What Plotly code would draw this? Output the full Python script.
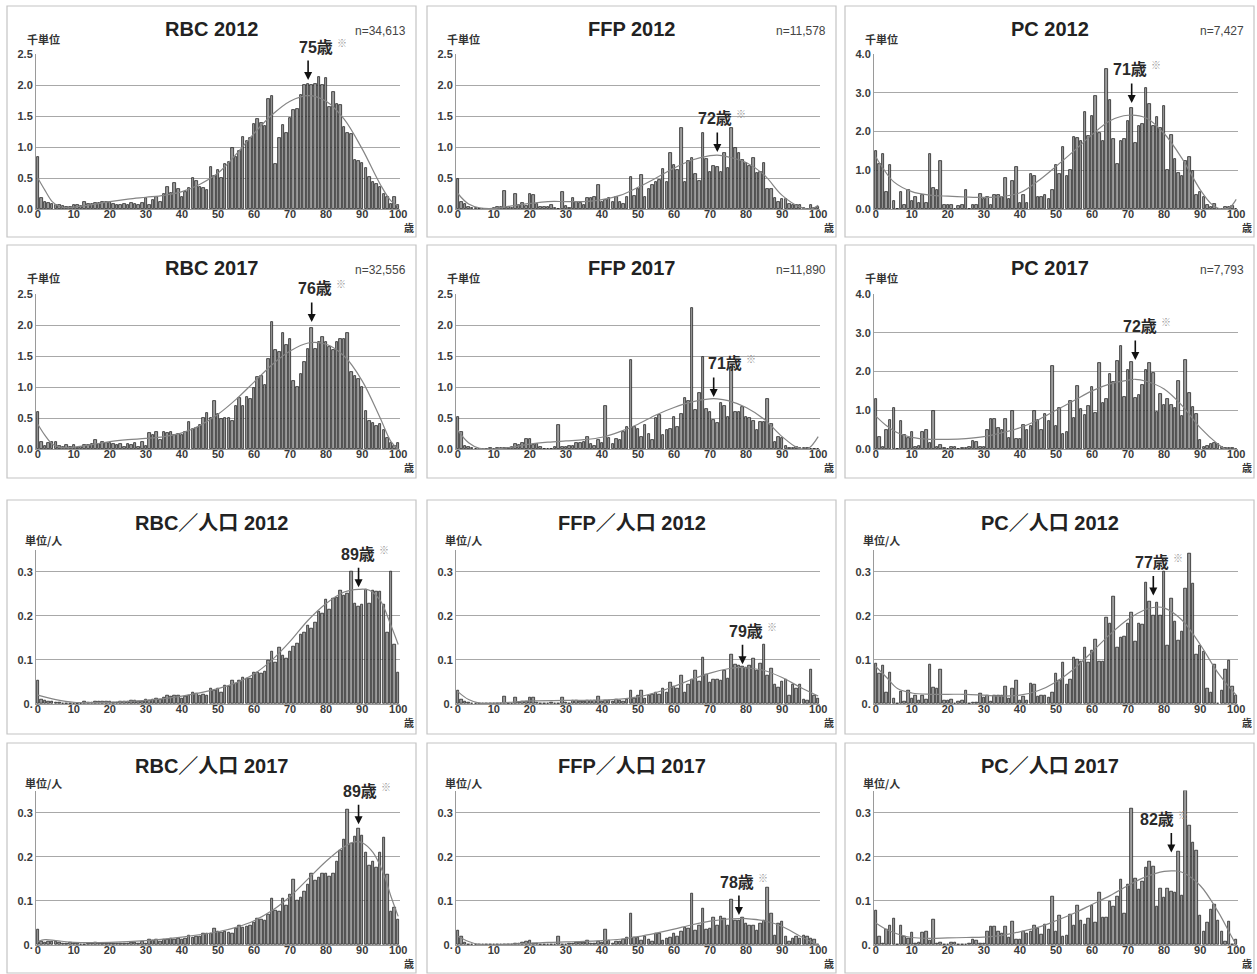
import plotly.graph_objects as go

# ---------------------------------------------------------------- data
ages = list(range(101))

# units used per age (thousand units)
rbc_2012 = [
    0.84, 0.18, 0.12, 0.09, 0.08, 0.07, 0.06, 0.05, 0.04, 0.03,
    0.06, 0.06, 0.05, 0.12, 0.08, 0.08, 0.09, 0.10, 0.11, 0.12,
    0.11, 0.08, 0.06, 0.07, 0.08, 0.07, 0.10, 0.08, 0.07, 0.09,
    0.17, 0.07, 0.15, 0.20, 0.12, 0.24, 0.36, 0.26, 0.42, 0.32,
    0.20, 0.28, 0.34, 0.50, 0.45, 0.36, 0.34, 0.30, 0.67, 0.53,
    0.63, 0.50, 0.73, 0.76, 0.99, 0.84, 0.94, 1.17, 1.09, 1.14,
    1.37, 1.46, 1.38, 1.34, 1.78, 1.82, 0.72, 1.14, 1.35, 1.23,
    1.47, 1.60, 1.62, 1.84, 2.00, 2.01, 2.00, 2.01, 2.13, 2.00,
    2.11, 1.64, 1.89, 1.69, 1.68, 1.32, 1.22, 1.21, 0.79, 0.77,
    0.74, 0.66, 0.51, 0.44, 0.41, 0.36, 0.25, 0.20, 0.08, 0.19,
    0.06]
ffp_2012 = [
    0.48, 0.12, 0.08, 0.04, 0.02, 0.01, 0.00, 0.00, 0.00, 0.00,
    0.02, 0.03, 0.03, 0.29, 0.03, 0.02, 0.25, 0.06, 0.09, 0.05,
    0.24, 0.23, 0.08, 0.04, 0.03, 0.04, 0.07, 0.02, 0.00, 0.27,
    0.05, 0.01, 0.17, 0.12, 0.09, 0.07, 0.17, 0.17, 0.19, 0.38,
    0.12, 0.15, 0.17, 0.11, 0.19, 0.12, 0.08, 0.20, 0.52, 0.21,
    0.32, 0.55, 0.20, 0.32, 0.38, 0.44, 0.47, 0.64, 0.44, 0.91,
    0.71, 0.63, 1.30, 0.44, 0.78, 0.83, 0.57, 0.45, 1.22, 0.80,
    0.60, 0.70, 0.67, 0.60, 0.90, 0.66, 1.30, 0.98, 0.90, 0.79,
    0.74, 0.70, 0.82, 0.58, 0.59, 0.74, 0.32, 0.32, 0.17, 0.12,
    0.16, 0.16, 0.08, 0.06, 0.06, 0.06, 0.01, 0.00, 0.06, 0.01,
    0.03]
pc_2012 = [
    1.51, 1.15, 1.43, 0.45, 1.13, 0.20, 0.00, 0.45, 0.10, 0.50,
    0.20, 0.30, 0.15, 0.35, 0.15, 1.43, 0.55, 0.50, 1.25, 0.10,
    0.10, 0.10, 0.00, 0.08, 0.10, 0.50, 0.00, 0.10, 0.10, 0.40,
    0.25, 0.30, 0.10, 0.35, 0.35, 0.30, 0.80, 0.25, 0.72, 1.08,
    0.15, 0.35, 0.15, 0.90, 0.85, 0.30, 0.30, 0.35, 0.25, 0.48,
    1.13, 0.90, 1.60, 0.85, 1.00, 1.85, 1.83, 1.75, 2.50, 1.88,
    2.40, 2.92, 1.95, 1.75, 3.62, 2.82, 1.82, 1.15, 1.75, 1.82,
    2.28, 2.60, 1.70, 2.15, 2.20, 3.12, 2.70, 2.15, 2.37, 2.10,
    2.65, 1.00, 1.90, 1.30, 0.92, 0.85, 1.25, 1.33, 0.97, 0.35,
    0.45, 0.30, 0.10, 0.05, 0.12, 0.00, 0.00, 0.04, 0.05, 0.08,
    0.00]
rbc_2017 = [
    0.60, 0.12, 0.05, 0.10, 0.12, 0.12, 0.05, 0.03, 0.06, 0.04,
    0.06, 0.02, 0.04, 0.06, 0.07, 0.08, 0.14, 0.08, 0.12, 0.10,
    0.10, 0.08, 0.07, 0.08, 0.04, 0.08, 0.07, 0.09, 0.04, 0.12,
    0.05, 0.26, 0.23, 0.27, 0.14, 0.28, 0.26, 0.27, 0.23, 0.24,
    0.22, 0.27, 0.44, 0.32, 0.34, 0.38, 0.50, 0.58, 0.50, 0.78,
    0.56, 0.48, 0.50, 0.50, 0.45, 0.70, 0.82, 0.70, 0.84, 0.80,
    0.98, 1.17, 1.18, 1.04, 1.46, 2.05, 1.60, 1.56, 1.88, 1.68,
    1.77, 1.10, 1.00, 1.21, 1.40, 1.62, 1.95, 1.62, 1.72, 1.80,
    1.73, 1.65, 1.60, 1.72, 1.78, 1.77, 1.87, 1.25, 1.18, 1.13,
    1.00, 0.62, 0.45, 0.42, 0.37, 0.40, 0.30, 0.18, 0.10, 0.05,
    0.10]
ffp_2017 = [
    0.52, 0.28, 0.05, 0.04, 0.02, 0.00, 0.00, 0.00, 0.00, 0.02,
    0.00, 0.01, 0.01, 0.01, 0.02, 0.04, 0.08, 0.06, 0.10, 0.16,
    0.16, 0.06, 0.08, 0.04, 0.00, 0.00, 0.00, 0.03, 0.38, 0.03,
    0.03, 0.05, 0.05, 0.10, 0.10, 0.12, 0.20, 0.08, 0.05, 0.15,
    0.10, 0.70, 0.17, 0.08, 0.16, 0.15, 0.27, 0.35, 1.43, 0.35,
    0.32, 0.20, 0.38, 0.25, 0.15, 0.50, 0.55, 0.22, 0.30, 0.33,
    0.52, 0.36, 0.57, 0.83, 0.78, 2.28, 0.63, 0.90, 1.48, 0.65,
    0.60, 0.47, 0.42, 0.75, 0.70, 0.52, 1.30, 0.60, 0.60, 0.68,
    0.52, 0.50, 0.45, 0.30, 0.43, 0.43, 0.80, 0.40, 0.12, 0.20,
    0.18, 0.05, 0.02, 0.02, 0.03, 0.02, 0.02, 0.02, 0.00, 0.00,
    0.00]
pc_2017 = [
    1.30, 0.30, 0.05, 0.50, 0.75, 1.05, 0.00, 0.73, 0.35, 0.28,
    0.45, 0.05, 0.08, 0.45, 0.50, 0.15, 0.98, 0.05, 0.10, 0.03,
    0.00, 0.05, 0.05, 0.00, 0.03, 0.03, 0.05, 0.20, 0.18, 0.05,
    0.05, 0.48, 0.78, 0.78, 0.55, 0.48, 0.78, 0.28, 0.97, 0.25,
    0.25, 0.62, 0.50, 0.60, 0.98, 0.75, 0.48, 0.90, 0.72, 2.15,
    0.60, 1.05, 0.38, 0.45, 1.23, 0.80, 1.63, 1.02, 0.88, 1.10,
    1.60, 0.93, 2.23, 1.20, 1.28, 1.93, 1.73, 2.27, 2.65, 1.35,
    2.05, 2.25, 1.32, 1.40, 1.65, 2.05, 2.23, 1.97, 0.95, 1.42,
    1.13, 1.30, 1.13, 1.07, 1.75, 0.85, 2.30, 1.45, 1.08, 0.90,
    0.22, 0.06, 0.08, 0.12, 0.15, 0.12, 0.06, 0.02, 0.02, 0.02,
    0.00]

# units used per person, by age
rbc_pop_2012 = [
    0.052, 0.010, 0.008, 0.006, 0.005, 0.004, 0.003, 0.002, 0.002, 0.002,
    0.002, 0.002, 0.002, 0.005, 0.004, 0.004, 0.005, 0.005, 0.006, 0.005,
    0.005, 0.004, 0.004, 0.005, 0.005, 0.006, 0.007, 0.007, 0.006, 0.006,
    0.010, 0.007, 0.010, 0.012, 0.009, 0.015, 0.020, 0.016, 0.020, 0.018,
    0.012, 0.016, 0.020, 0.027, 0.023, 0.020, 0.021, 0.018, 0.036, 0.030,
    0.036, 0.027, 0.042, 0.040, 0.054, 0.047, 0.052, 0.060, 0.058, 0.058,
    0.071, 0.072, 0.070, 0.074, 0.098, 0.118, 0.094, 0.127, 0.110, 0.104,
    0.118, 0.130, 0.137, 0.158, 0.163, 0.178, 0.170, 0.185, 0.210, 0.205,
    0.237, 0.215, 0.240, 0.242, 0.258, 0.245, 0.250, 0.300, 0.228, 0.220,
    0.225, 0.260, 0.228, 0.257, 0.255, 0.254, 0.225, 0.163, 0.300, 0.135,
    0.072]
ffp_pop_2012 = [
    0.030, 0.010, 0.006, 0.003, 0.001, 0.000, 0.000, 0.000, 0.000, 0.000,
    0.001, 0.001, 0.001, 0.017, 0.002, 0.002, 0.015, 0.004, 0.006, 0.005,
    0.015, 0.015, 0.004, 0.002, 0.002, 0.002, 0.003, 0.001, 0.000, 0.015,
    0.003, 0.001, 0.008, 0.007, 0.005, 0.005, 0.008, 0.008, 0.008, 0.017,
    0.005, 0.007, 0.008, 0.005, 0.009, 0.008, 0.006, 0.010, 0.030, 0.013,
    0.018, 0.030, 0.012, 0.020, 0.022, 0.025, 0.022, 0.035, 0.025, 0.048,
    0.040, 0.035, 0.065, 0.025, 0.045, 0.055, 0.075, 0.050, 0.105, 0.067,
    0.048, 0.055, 0.055, 0.052, 0.076, 0.058, 0.112, 0.090, 0.088, 0.085,
    0.082, 0.087, 0.103, 0.075, 0.092, 0.135, 0.065, 0.080, 0.045, 0.038,
    0.050, 0.055, 0.020, 0.045, 0.035, 0.045, 0.010, 0.007, 0.078, 0.020,
    0.012]
pc_pop_2012 = [
    0.092, 0.070, 0.088, 0.027, 0.072, 0.013, 0.000, 0.028, 0.005, 0.030,
    0.013, 0.018, 0.008, 0.018, 0.010, 0.090, 0.037, 0.035, 0.078, 0.007,
    0.008, 0.010, 0.002, 0.005, 0.007, 0.030, 0.000, 0.004, 0.004, 0.023,
    0.015, 0.018, 0.005, 0.018, 0.018, 0.018, 0.040, 0.012, 0.035, 0.052,
    0.007, 0.017, 0.008, 0.047, 0.045, 0.017, 0.018, 0.018, 0.015, 0.027,
    0.068, 0.052, 0.093, 0.045, 0.055, 0.106, 0.100, 0.097, 0.127, 0.094,
    0.122, 0.146, 0.097, 0.097, 0.195, 0.182, 0.243, 0.128, 0.150, 0.152,
    0.183, 0.208, 0.142, 0.182, 0.180, 0.275, 0.233, 0.200, 0.229, 0.200,
    0.300, 0.133, 0.238, 0.187, 0.143, 0.165, 0.262, 0.340, 0.272, 0.112,
    0.132, 0.118, 0.036, 0.025, 0.090, 0.000, 0.030, 0.077, 0.098, 0.040,
    0.018]
rbc_pop_2017 = [
    0.035, 0.008, 0.005, 0.007, 0.007, 0.007, 0.006, 0.004, 0.003, 0.005,
    0.004, 0.003, 0.002, 0.002, 0.003, 0.003, 0.005, 0.003, 0.004, 0.004,
    0.004, 0.004, 0.003, 0.004, 0.004, 0.004, 0.005, 0.006, 0.004, 0.007,
    0.004, 0.012, 0.010, 0.012, 0.007, 0.013, 0.013, 0.014, 0.013, 0.014,
    0.013, 0.015, 0.022, 0.017, 0.018, 0.020, 0.025, 0.027, 0.025, 0.037,
    0.030, 0.028, 0.030, 0.028, 0.025, 0.037, 0.043, 0.040, 0.042, 0.043,
    0.050, 0.060, 0.058, 0.055, 0.070, 0.105, 0.077, 0.075, 0.105, 0.090,
    0.115, 0.148, 0.100, 0.108, 0.122, 0.138, 0.163, 0.145, 0.152, 0.163,
    0.163, 0.155, 0.162, 0.190, 0.215, 0.240, 0.307, 0.230, 0.245, 0.263,
    0.248, 0.210, 0.180, 0.190, 0.175, 0.210, 0.243, 0.160, 0.075, 0.085,
    0.058]
ffp_pop_2017 = [
    0.032, 0.018, 0.005, 0.002, 0.000, 0.000, 0.000, 0.000, 0.000, 0.000,
    0.000, 0.000, 0.000, 0.000, 0.001, 0.002, 0.003, 0.003, 0.005, 0.008,
    0.009, 0.004, 0.004, 0.002, 0.000, 0.000, 0.000, 0.002, 0.020, 0.002,
    0.002, 0.003, 0.003, 0.005, 0.005, 0.006, 0.010, 0.004, 0.003, 0.007,
    0.005, 0.035, 0.009, 0.004, 0.008, 0.008, 0.013, 0.017, 0.072, 0.017,
    0.016, 0.010, 0.019, 0.012, 0.007, 0.025, 0.027, 0.011, 0.015, 0.017,
    0.027, 0.018, 0.030, 0.040, 0.038, 0.117, 0.032, 0.045, 0.082, 0.035,
    0.038, 0.063, 0.045, 0.064, 0.060, 0.044, 0.104, 0.055, 0.055, 0.062,
    0.048, 0.045, 0.044, 0.033, 0.049, 0.055, 0.130, 0.071, 0.022, 0.048,
    0.052, 0.020, 0.008, 0.015, 0.020, 0.014, 0.022, 0.018, 0.014, 0.012,
    0.000]
pc_pop_2017 = [
    0.078, 0.018, 0.003, 0.035, 0.045, 0.060, 0.000, 0.043, 0.020, 0.015,
    0.028, 0.003, 0.005, 0.028, 0.030, 0.010, 0.057, 0.003, 0.006, 0.002,
    0.000, 0.005, 0.005, 0.000, 0.002, 0.002, 0.003, 0.013, 0.010, 0.003,
    0.003, 0.030, 0.042, 0.042, 0.030, 0.027, 0.042, 0.016, 0.052, 0.013,
    0.013, 0.030, 0.027, 0.030, 0.043, 0.037, 0.023, 0.046, 0.035, 0.110,
    0.030, 0.067, 0.018, 0.022, 0.070, 0.045, 0.090, 0.055, 0.047, 0.060,
    0.090, 0.050, 0.118, 0.062, 0.062, 0.098, 0.088, 0.110, 0.148, 0.072,
    0.136, 0.310, 0.150, 0.125, 0.143, 0.175, 0.190, 0.178, 0.087, 0.128,
    0.108, 0.127, 0.120, 0.118, 0.212, 0.112, 0.350, 0.270, 0.233, 0.215,
    0.067, 0.030, 0.050, 0.080, 0.092, 0.055, 0.030, 0.008, 0.052, 0.000,
    0.012]

# smoothed trend lines (age, value)
rbc_2012_fit_age = [0, 2, 4, 6, 8, 10, 15, 20, 25, 30, 35, 40, 45, 50, 55, 60, 65, 70, 75, 80, 85, 90, 95, 98, 100]
rbc_2012_fit = [0.50, 0.30, 0.12, 0.04, 0.02, 0.03, 0.07, 0.12, 0.16, 0.19, 0.22, 0.28, 0.40, 0.58, 0.88, 1.22, 1.52, 1.74, 1.83, 1.74, 1.45, 0.97, 0.40, 0.13, 0.05]
ffp_2012_fit_age = [0, 3, 6, 10, 15, 20, 25, 30, 35, 40, 45, 50, 55, 60, 65, 70, 72, 75, 80, 85, 90, 95, 98, 100]
ffp_2012_fit = [0.25, 0.08, 0.02, 0.01, 0.05, 0.09, 0.12, 0.12, 0.12, 0.15, 0.22, 0.35, 0.50, 0.66, 0.79, 0.86, 0.87, 0.84, 0.75, 0.55, 0.22, 0.03, 0.00, 0.06]
pc_2012_fit_age = [0, 2, 5, 10, 15, 20, 25, 30, 35, 40, 45, 50, 55, 60, 65, 70, 75, 80, 85, 90, 93, 95, 98, 100]
pc_2012_fit = [1.35, 1.05, 0.70, 0.45, 0.36, 0.33, 0.31, 0.30, 0.32, 0.42, 0.72, 1.10, 1.50, 1.92, 2.28, 2.42, 2.35, 1.95, 1.30, 0.50, 0.14, 0.02, 0.03, 0.25]
rbc_2017_fit_age = [0, 2, 4, 6, 8, 10, 15, 20, 25, 30, 35, 40, 45, 50, 55, 60, 65, 70, 75, 80, 85, 90, 95, 98, 100]
rbc_2017_fit = [0.40, 0.22, 0.08, 0.03, 0.02, 0.03, 0.07, 0.12, 0.15, 0.17, 0.20, 0.26, 0.38, 0.56, 0.80, 1.08, 1.36, 1.58, 1.71, 1.69, 1.50, 1.10, 0.50, 0.12, 0.00]
ffp_2017_fit_age = [0, 3, 6, 10, 15, 20, 25, 30, 35, 40, 45, 50, 55, 60, 65, 70, 72, 75, 80, 85, 90, 94, 97, 100]
ffp_2017_fit = [0.30, 0.10, 0.01, 0.00, 0.03, 0.08, 0.11, 0.13, 0.15, 0.19, 0.28, 0.40, 0.55, 0.67, 0.76, 0.81, 0.81, 0.78, 0.67, 0.48, 0.20, 0.03, 0.00, 0.20]
pc_2017_fit_age = [0, 3, 6, 10, 15, 20, 25, 30, 35, 40, 45, 50, 55, 60, 65, 70, 72, 75, 80, 85, 90, 95, 97, 100]
pc_2017_fit = [0.85, 0.60, 0.42, 0.30, 0.25, 0.25, 0.27, 0.32, 0.42, 0.55, 0.75, 1.00, 1.25, 1.50, 1.68, 1.78, 1.80, 1.75, 1.55, 1.12, 0.55, 0.12, 0.00, 0.00]

rbc_pop_2012_fit_age = [0, 5, 10, 20, 30, 40, 50, 55, 60, 65, 70, 75, 80, 85, 89, 92, 95, 98, 100]
rbc_pop_2012_fit = [0.020, 0.010, 0.004, 0.004, 0.008, 0.018, 0.035, 0.048, 0.068, 0.100, 0.142, 0.190, 0.228, 0.254, 0.260, 0.258, 0.235, 0.178, 0.135]
ffp_pop_2012_fit_age = [0, 3, 6, 10, 15, 20, 30, 40, 45, 50, 55, 60, 65, 70, 75, 78, 80, 85, 90, 95, 100]
ffp_pop_2012_fit = [0.028, 0.010, 0.002, 0.002, 0.004, 0.007, 0.008, 0.009, 0.011, 0.016, 0.026, 0.040, 0.056, 0.070, 0.080, 0.083, 0.082, 0.076, 0.060, 0.038, 0.018]
pc_pop_2012_fit_age = [0, 3, 6, 10, 15, 20, 25, 30, 35, 40, 45, 50, 55, 60, 65, 70, 75, 78, 80, 85, 90, 95, 100]
pc_pop_2012_fit = [0.085, 0.060, 0.035, 0.025, 0.022, 0.022, 0.022, 0.020, 0.018, 0.020, 0.030, 0.050, 0.080, 0.118, 0.158, 0.192, 0.215, 0.220, 0.218, 0.190, 0.135, 0.070, 0.020]
rbc_pop_2017_fit_age = [0, 2, 5, 10, 20, 30, 40, 50, 55, 60, 65, 70, 75, 80, 85, 88, 90, 93, 96, 98, 100]
rbc_pop_2017_fit = [0.008, 0.012, 0.010, 0.006, 0.006, 0.010, 0.018, 0.030, 0.040, 0.055, 0.078, 0.110, 0.150, 0.190, 0.223, 0.234, 0.232, 0.210, 0.160, 0.110, 0.065]
ffp_pop_2017_fit_age = [0, 3, 6, 10, 15, 20, 25, 30, 35, 40, 45, 50, 55, 60, 65, 70, 75, 78, 80, 85, 90, 95, 100]
ffp_pop_2017_fit = [0.020, 0.008, 0.001, 0.000, 0.002, 0.004, 0.006, 0.007, 0.008, 0.010, 0.013, 0.019, 0.027, 0.036, 0.046, 0.054, 0.059, 0.060, 0.060, 0.055, 0.042, 0.020, 0.000]
pc_pop_2017_fit_age = [0, 3, 6, 10, 15, 20, 25, 30, 35, 40, 45, 50, 55, 60, 65, 70, 75, 80, 83, 85, 90, 95, 98, 100]
pc_pop_2017_fit = [0.050, 0.035, 0.025, 0.017, 0.015, 0.016, 0.017, 0.018, 0.022, 0.030, 0.040, 0.055, 0.072, 0.092, 0.112, 0.135, 0.155, 0.167, 0.168, 0.165, 0.135, 0.075, 0.030, 0.000]

titles = ["RBC 2012", "FFP 2012", "PC 2012",
          "RBC 2017", "FFP 2017", "PC 2017",
          "RBC／人口 2012", "FFP／人口 2012", "PC／人口 2012",
          "RBC／人口 2017", "FFP／人口 2017", "PC／人口 2017"]
n_labels = ["n=34,613", "n=11,578", "n=7,427",
            "n=32,556", "n=11,890", "n=7,793",
            None, None, None, None, None, None]
peak_ages = [75, 72, 71, 76, 71, 72, 89, 79, 77, 89, 78, 82]

bars = [rbc_2012, ffp_2012, pc_2012, rbc_2017, ffp_2017, pc_2017,
        rbc_pop_2012, ffp_pop_2012, pc_pop_2012, rbc_pop_2017, ffp_pop_2017, pc_pop_2017]
fits = [(rbc_2012_fit_age, rbc_2012_fit), (ffp_2012_fit_age, ffp_2012_fit), (pc_2012_fit_age, pc_2012_fit),
        (rbc_2017_fit_age, rbc_2017_fit), (ffp_2017_fit_age, ffp_2017_fit), (pc_2017_fit_age, pc_2017_fit),
        (rbc_pop_2012_fit_age, rbc_pop_2012_fit), (ffp_pop_2012_fit_age, ffp_pop_2012_fit),
        (pc_pop_2012_fit_age, pc_pop_2012_fit), (rbc_pop_2017_fit_age, rbc_pop_2017_fit),
        (ffp_pop_2017_fit_age, ffp_pop_2017_fit), (pc_pop_2017_fit_age, pc_pop_2017_fit)]

for b in bars:
    assert len(b) == len(ages)

# ---------------------------------------------------------------- layout geometry (pixels)
W, H = 1257, 974
PLOT_X = [(36, 400), (456, 820), (874, 1238)]
PLOT_Y = [(209, 54), (449, 294), (704, 549.6), (945, 790.6)]
BOX_X = [(7, 416), (427, 836), (845, 1254)]
BOX_Y = [(6, 237), (245, 478), (500, 734), (743, 973)]

# per-panel y scale: (range max, tick values, tick labels)
SCALE_25 = (2.5, [0, 0.5, 1.0, 1.5, 2.0, 2.5], ["0.0", "0.5", "1.0", "1.5", "2.0", "2.5"])
SCALE_40 = (4.0, [0, 1, 2, 3, 4], ["0.0", "1.0", "2.0", "3.0", "4.0"])
SCALE_POP = (0.35, [0, 0.1, 0.2, 0.3], ["0.", "0.1", "0.2", "0.3"])
scales = [SCALE_25, SCALE_25, SCALE_40, SCALE_25, SCALE_25, SCALE_40,
          SCALE_POP, SCALE_POP, SCALE_POP, SCALE_POP, SCALE_POP, SCALE_POP]
unit_labels = ["千単位"] * 6 + ["単位/人"] * 6

# arrow tip height above the bars, and horizontal nudge of the age label
arrow_tip = [2.08, 0.92, 2.74, 2.05, 0.84, 2.30, 0.265, 0.09, 0.246, 0.274, 0.068, 0.21]
label_dx = [8, -2, -2, 3, 11, 5, -1, 3, -1, 1, -2, -14]

FONT = "Liberation Sans, Arial, Noto Sans CJK JP, sans-serif"
CJK = "Noto Sans CJK JP, Liberation Sans, sans-serif"


def px(x):
    return x / W


def py(y):
    return 1 - y / H


fig = go.Figure()
shapes, annotations = [], []
layout_axes = {}
tick_font = dict(size=11, color="#3a3a3a", family=FONT, weight="bold")

for i in range(12):
    r, c = divmod(i, 3)
    k = "" if i == 0 else str(i + 1)
    xa, ya = "x" + k, "y" + k
    ymax, tvals, ttext = scales[i]

    fig.add_trace(go.Bar(
        x=ages, y=bars[i], xaxis=xa, yaxis=ya, width=0.7,
        marker=dict(color="#9c9c9c", line=dict(color="#1c1c1c", width=0.75)),
        hoverinfo="x+y", showlegend=False))
    fx, fy = fits[i]
    fig.add_trace(go.Scatter(
        x=fx, y=fy, xaxis=xa, yaxis=ya, mode="lines",
        line=dict(color="#858585", width=1.2, shape="spline", smoothing=1.0),
        hoverinfo="skip", showlegend=False))

    x0, x1 = PLOT_X[c]
    yb, yt = PLOT_Y[r]
    layout_axes["xaxis" + k] = dict(
        domain=[px(x0), px(x1)], anchor=ya, range=[-0.5, 100.5], automargin=False,
        tickvals=list(range(0, 101, 10)), showgrid=False, zeroline=False,
        showline=True, linecolor="#9a9a9a", linewidth=1, ticks="",
        ticklabelstandoff=-5, tickfont=tick_font, fixedrange=True)
    layout_axes["yaxis" + k] = dict(
        domain=[py(yb), py(yt)], anchor=xa, range=[0, ymax * 1.0005], automargin=False,
        tickvals=tvals, ticktext=ttext, showgrid=True, gridcolor="#a8a8a8",
        gridwidth=1, zeroline=False, showline=True, linecolor="#9a9a9a",
        linewidth=1, ticks="", tickfont=tick_font, fixedrange=True)

    # panel frame
    bx0, bx1 = BOX_X[c]
    by0, by1 = BOX_Y[r]
    shapes.append(dict(type="rect", xref="paper", yref="paper",
                       x0=px(bx0), x1=px(bx1), y0=py(by1), y1=py(by0),
                       line=dict(color="#c4c4c4", width=1.2), fillcolor="rgba(0,0,0,0)",
                       layer="below"))

    # title
    annotations.append(dict(
        xref="paper", yref="paper", x=px((bx0 + bx1) / 2), y=py(by0 + 23),
        text="<b>" + titles[i] + "</b>", showarrow=False, xanchor="center", yanchor="middle",
        font=dict(size=20, color="#222222", family=FONT)))
    # sample size
    if n_labels[i]:
        annotations.append(dict(
            xref="paper", yref="paper", x=px(x1 + 8), y=py(by0 + 25),
            text=n_labels[i], showarrow=False, xanchor="right", yanchor="middle",
            font=dict(size=12, color="#444444", family=FONT)))
    # unit of the y axis
    unit_y = by0 + 33 if r < 2 else by0 + 40
    annotations.append(dict(
        xref="paper", yref="paper", x=px(x0 + 7), y=py(unit_y),
        text="<b>" + unit_labels[i] + "</b>", showarrow=False, xanchor="center", yanchor="middle",
        font=dict(size=11, color="#333333", family=CJK)))
    # age unit at the end of the x axis
    annotations.append(dict(
        xref="paper", yref="paper", x=px(x1 + 9), y=py(yb + 18),
        text="<b>歳</b>", showarrow=False, xanchor="center", yanchor="middle",
        font=dict(size=10, color="#333333", family=CJK)))

    # peak marker: arrow, age label and note mark
    pa = peak_ages[i]
    annotations.append(dict(
        xref=xa, yref=ya, x=pa, y=arrow_tip[i], ax=0, ay=-21, text="",
        showarrow=True, arrowhead=2, arrowsize=1, arrowwidth=1.6, arrowcolor="#111111"))
    annotations.append(dict(
        xref=xa, yref=ya, x=pa, y=arrow_tip[i], xshift=label_dx[i], yshift=33,
        text=f"<b>{pa}歳</b>", showarrow=False, xanchor="center", yanchor="middle",
        font=dict(size=16, color="#2a2a2a", family=FONT)))
    annotations.append(dict(
        xref=xa, yref=ya, x=pa, y=arrow_tip[i], xshift=label_dx[i] + 19, yshift=38,
        text="※", showarrow=False, xanchor="left", yanchor="middle",
        font=dict(size=10, color="#999999", family=CJK)))

fig.update_layout(
    width=W, height=H, margin=dict(l=0, r=0, t=0, b=0, autoexpand=False),
    paper_bgcolor="white", plot_bgcolor="white",
    font=dict(family=FONT), showlegend=False, bargap=0,
    shapes=shapes, annotations=annotations, **layout_axes)

fig.write_html("out.html", config={"displayModeBar": False})
